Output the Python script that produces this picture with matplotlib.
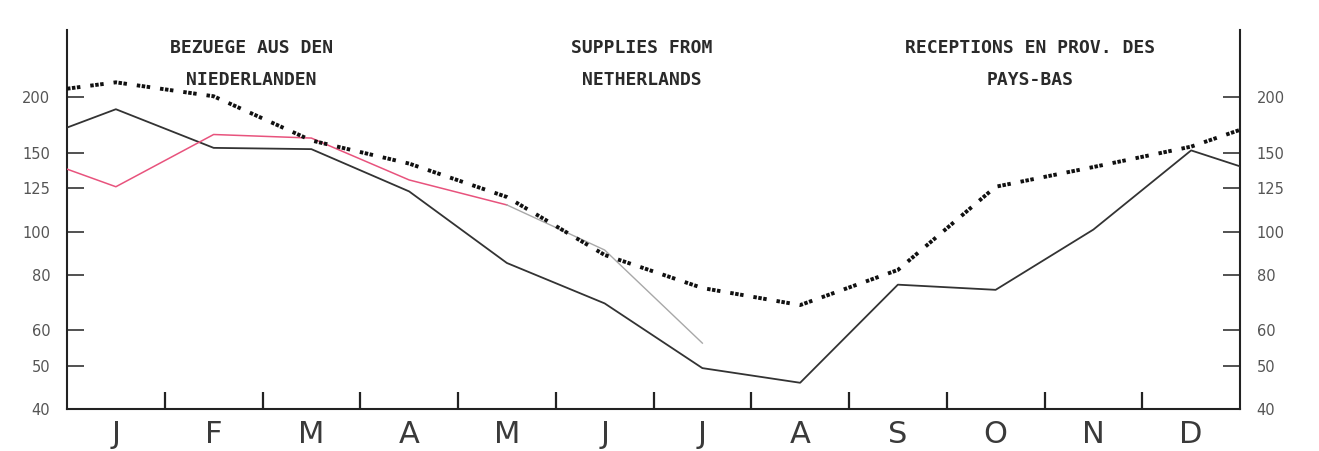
import numpy as np
import matplotlib
matplotlib.use('Agg')
import matplotlib.pyplot as plt
from matplotlib.ticker import NullLocator, FixedLocator

months = ['J', 'F', 'M', 'A', 'M', 'J', 'J', 'A', 'S', 'O', 'N', 'D']

# black solid line: value at left edge, monthly values, value at right edge
solid_start = 171
solid = [188, 154, 153, 123, 85, 69, 49.4, 45.8, 76, 74, 101, 152]
solid_end = 140

# pink line (Jan-May) and its grey continuation (May-Jul)
pink_start = 138
pink = [126, 165, 162, 130.5, 114.7]
grey = [114.7, 90.9, 56.2]

# dotted line
dotted_start = 209
dotted = [216, 201, 160, 142, 119.5, 88.6, 74.7, 68.4, 82, 126, 139.5, 155]
dotted_end = 169

yticks = [40, 50, 60, 80, 100, 125, 150, 200]

titles = [
    (1.89, 'BEZUEGE AUS DEN\nNIEDERLANDEN'),
    (5.88, 'SUPPLIES FROM\nNETHERLANDS'),
    (9.85, 'RECEPTIONS EN PROV. DES\nPAYS-BAS'),
]

plt.rcParams['lines.scale_dashes'] = False

fig = plt.figure(figsize=(13.19, 4.51), dpi=100)
ax = fig.add_axes([67/1319, 1 - 409/451, (1240 - 67)/1319, (409 - 30)/451])

xc = np.arange(12) + 0.5

ax.plot(np.r_[0, xc, 12], [solid_start] + solid + [solid_end],
        color='#333333', lw=1.3, zorder=3)
ax.plot(np.r_[0, xc[:5]], [pink_start] + pink, color='#e8537d', lw=1.1, zorder=3)
ax.plot(xc[4:7], grey, color='#a8a8a8', lw=1.0, zorder=3)
ax.plot(np.r_[0, xc, 12], [dotted_start] + dotted + [dotted_end],
        color='#111111', lw=2.8, dash_capstyle='butt',
        linestyle=(0, (2.5, 1.1, 2.5, 1.1, 2.5, 7.2)), zorder=4)

ax.set_yscale('log')
ax.set_ylim(40, 283)
ax.set_xlim(0, 12)

ax.yaxis.set_major_locator(FixedLocator(yticks))
ax.yaxis.set_minor_locator(NullLocator())
ax.set_yticklabels([str(v) for v in yticks])
ax.tick_params(axis='y', which='major', direction='in', length=12, width=1.2,
               color='#333333', labelsize=10.5, labelcolor='#555555',
               left=True, right=True, labelleft=True, labelright=True, pad=12)

# month boundary ticks, labels at month centres
ax.xaxis.set_major_locator(FixedLocator(np.arange(1, 12)))
ax.xaxis.set_minor_locator(FixedLocator(xc))
ax.set_xticklabels([])
ax.set_xticklabels(months, minor=True)
ax.tick_params(axis='x', which='major', direction='in', length=12, width=1.6,
               color='#222222')
ax.tick_params(axis='x', which='minor', length=0, pad=8, labelsize=22,
               labelcolor='#3a3a3a')

for side in ['left', 'right', 'bottom']:
    ax.spines[side].set_linewidth(1.5)
    ax.spines[side].set_color('#222222')
ax.spines['top'].set_visible(False)

tr = ax.get_xaxis_transform()
for x, t in titles:
    l1, l2 = t.split('\n')
    ax.text(x, 0.9525, l1, transform=tr, ha='center', va='center',
            family='DejaVu Sans Mono', fontsize=13, fontweight='bold',
            color='#2a2a2a')
    ax.text(x, 0.868, l2, transform=tr, ha='center', va='center',
            family='DejaVu Sans Mono', fontsize=13, fontweight='bold',
            color='#2a2a2a')

fig.savefig('out.png', dpi=100)
